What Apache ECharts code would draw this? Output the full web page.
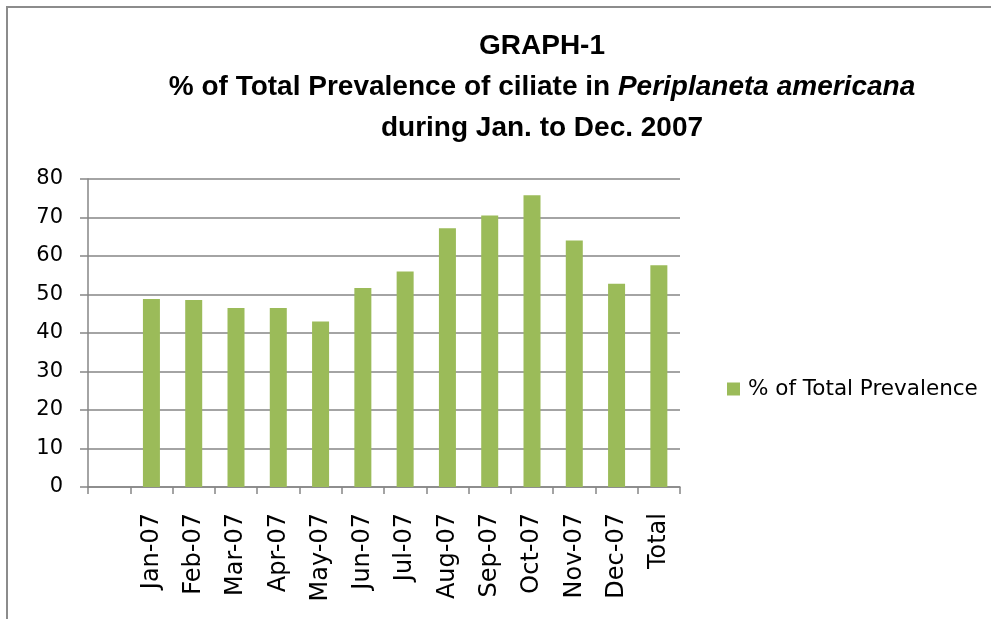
<!DOCTYPE html>
<html><head><meta charset="utf-8">
<script src="https://cdn.jsdelivr.net/npm/echarts@6/dist/echarts.min.js"></script>
<style>html,body{margin:0;padding:0;background:#fff}#c{width:991px;height:619px}</style>
</head><body><div id="c"></div>
<script>
const categories = ['', 'Jan-07','Feb-07','Mar-07','Apr-07','May-07','Jun-07','Jul-07','Aug-07','Sep-07','Oct-07','Nov-07','Dec-07','Total'];
const prevalence = [null, 48.8, 48.6, 46.5, 46.5, 43.0, 51.7, 56.0, 67.2, 70.5, 75.8, 64.0, 52.8, 57.6];
const seriesName = '% of Total Prevalence';
const yTicks = [0, 80, 10];

const chart = echarts.init(document.getElementById('c'));
const gray = '#868686';
const titleFont = 'Liberation Sans, Arial, sans-serif';
const font = 'DejaVu Sans, sans-serif';
chart.setOption({
  animation: false,
  backgroundColor: '#fff',
  graphic: [{
    type: 'rect', shape: {x: 7, y: 7, width: 1000, height: 700},
    style: {fill: 'none', stroke: '#8c8c8c', lineWidth: 2}, silent: true
  }],
  title: {
    left: 537, textAlign: 'center', top: 21,
    text: '{b|GRAPH-1}\n{b|% of Total Prevalence of ciliate in }{i|Periplaneta americana}\n{b|during Jan. to Dec. 2007}',
    textStyle: {
      rich: {
        b: {fontFamily: titleFont, fontWeight: 'bold', fontSize: 28, color: '#000', lineHeight: 41},
        i: {fontFamily: titleFont, fontWeight: 'bold', fontStyle: 'italic', fontSize: 28, color: '#000', lineHeight: 41}
      }
    }
  },
  legend: {
    left: 722, top: 373, itemWidth: 13, itemHeight: 13, itemGap: 8,
    icon: 'rect',
    textStyle: {fontFamily: font, fontSize: 21.5, color: '#000', padding: [0, 0, 0, 3]},
    data: [seriesName]
  },
  grid: {left: 88, right: 311, top: 179, bottom: 132, containLabel: false},
  xAxis: {
    type: 'category', data: categories,
    axisLine: {show: true, lineStyle: {color: gray, width: 1.5}},
    axisTick: {show: true, length: 7, alignWithLabel: false, interval: 0, lineStyle: {color: gray, width: 1.5}},
    axisLabel: {rotate: 90, interval: 0, fontFamily: font, fontSize: 24, color: '#000', margin: 26}
  },
  yAxis: {
    type: 'value', min: yTicks[0], max: yTicks[1], interval: yTicks[2],
    axisLine: {show: true, lineStyle: {color: gray, width: 1.5}},
    axisTick: {show: true, length: 8, lineStyle: {color: gray, width: 1.5}},
    splitLine: {show: true, lineStyle: {color: gray, width: 1.5}},
    axisLabel: {fontFamily: font, fontSize: 21, color: '#000', margin: 25}
  },
  series: [{
    name: seriesName, type: 'bar', data: prevalence, barWidth: 17,
    itemStyle: {color: '#9bbb59'}
  }]
});
</script></body></html>
